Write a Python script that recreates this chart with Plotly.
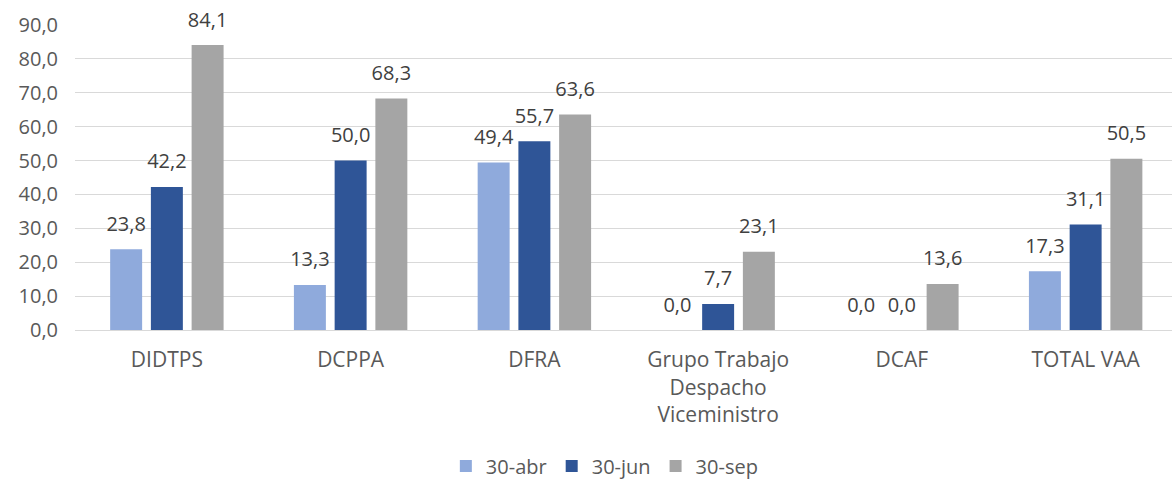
import plotly.graph_objects as go

categories = ["DIDTPS", "DCPPA", "DFRA", "Grupo Trabajo<br>Despacho<br>Viceministro", "DCAF", "TOTAL VAA"]
series_names = ["30-abr", "30-jun", "30-sep"]
abr = [23.8, 13.3, 49.4, 0.0, 0.0, 17.3]
jun = [42.2, 50.0, 55.7, 7.7, 0.0, 31.1]
sep = [84.1, 68.3, 63.6, 23.1, 13.6, 50.5]
colors = ["#8FAADC", "#2F5597", "#A5A5A5"]

font_family = "'Open Sans', sans-serif"

fig = go.Figure()
for name, vals, col in zip(series_names, [abr, jun, sep], colors):
    fig.add_trace(go.Bar(
        x=categories, y=vals, name=name,
        marker=dict(color=col, line=dict(width=0)),
    ))
for name, vals, col in zip(series_names, [abr, jun, sep], colors):
    fig.add_trace(go.Scatter(
        x=categories, y=vals, name=name, showlegend=False, hoverinfo="skip",
        mode="markers+text", marker=dict(size=20, opacity=0, color=col),
        texttemplate="%{y:.1f}", textposition="top center",
        textfont=dict(size=20, color="#404040", family=font_family),
        cliponaxis=False,
    ))

fig.update_layout(
    width=1172, height=485,
    margin=dict(l=75, r=0, t=25, b=155, autoexpand=False),
    plot_bgcolor="white", paper_bgcolor="white",
    separators=",.",
    barmode="group", bargap=0.335, bargroupgap=0.215,
    scattermode="group", scattergap=0.335,
    font=dict(family=font_family, size=20, color="#595959"),
    xaxis=dict(showgrid=False, showline=True, linecolor="#D9D9D9", linewidth=1,
               range=[-0.5, 5.47],
               ticks="", tickfont=dict(size=21, color="#595959"), automargin=False,
               ticklabelstandoff=11),
    yaxis=dict(range=[0, 90], dtick=10, tickformat=".1f", showgrid=True,
               gridcolor="#D9D9D9", gridwidth=1, zeroline=False, automargin=False,
               tickfont=dict(size=20, color="#595959"), ticks="", ticklabelstandoff=16),
    legend=dict(orientation="h", x=0.483, xanchor="center", y=-0.446, yanchor="middle",
                font=dict(size=20, color="#595959"), traceorder="normal",
                itemwidth=30),
)

fig.write_html("out.html", config={"displayModeBar": False},
               post_script="document.body.style.margin='0';")
